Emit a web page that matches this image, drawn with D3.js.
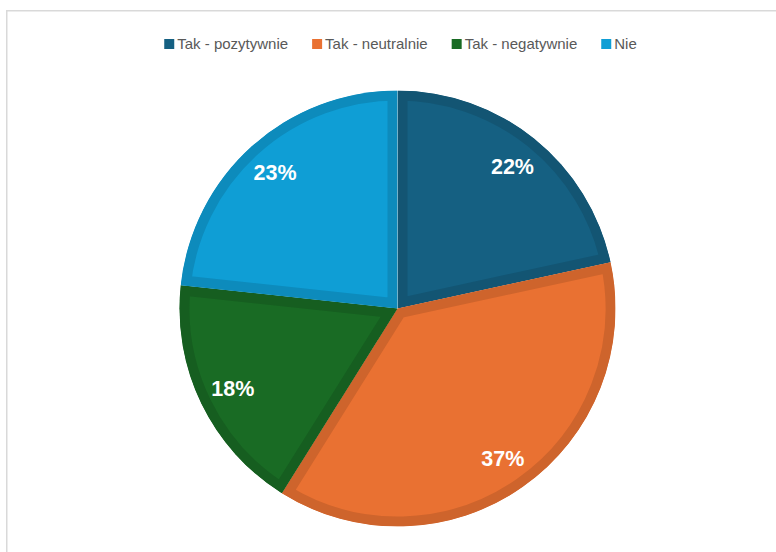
<!DOCTYPE html>
<html>
<head>
<meta charset="utf-8">
<script src="https://cdn.jsdelivr.net/npm/d3@7"></script>
<style>
  html, body { margin: 0; padding: 0; background: #fff; }
  svg { display: block; }
</style>
</head>
<body>
<svg id="chart" width="776" height="552"></svg>
<script>
const categories = ["Tak - pozytywnie", "Tak - neutralnie", "Tak - negatywnie", "Nie"];
const values = [21.6, 37.3, 17.8, 23.3];
const colors = ["#156082", "#E97132", "#196B24", "#0F9ED5"];

const svg = d3.select("#chart");

// chart area border
svg.append("rect")
  .attr("x", 6.75).attr("y", 10.75)
  .attr("width", 900).attr("height", 700)
  .attr("fill", "#fff")
  .attr("stroke", "#d9d9d9").attr("stroke-width", 1.5);

const cx = 397.5, cy = 308.5, R = 218;
const total = d3.sum(values);
const pie = d3.pie().sort(null).value(d => d)(values);
const arc = d3.arc().innerRadius(0).outerRadius(R);
const labelArc = d3.arc().innerRadius(R * 0.84).outerRadius(R * 0.84);

const g = svg.append("g").attr("transform", `translate(${cx},${cy})`);
const defs = svg.append("defs");

pie.forEach((d, i) => {
  defs.append("clipPath").attr("id", "clip" + i)
    .append("path").attr("d", arc(d));
});

g.selectAll("path.slice")
  .data(pie)
  .join("path")
  .attr("class", "slice")
  .attr("d", arc)
  .attr("fill", (d, i) => colors[i])
  .attr("stroke", (d, i) => d3.color(colors[i]).darker(0.35))
  .attr("stroke-width", 20)
  .attr("stroke-linejoin", "miter")
  .attr("clip-path", (d, i) => `url(#clip${i})`);

g.selectAll("text.lbl")
  .data(pie)
  .join("text")
  .attr("class", "lbl")
  .attr("transform", d => `translate(${labelArc.centroid(d)})`)
  .attr("text-anchor", "middle")
  .attr("dy", "0.36em")
  .attr("fill", "#fff")
  .attr("font-family", "'Liberation Sans', Arial, sans-serif")
  .attr("font-weight", "bold")
  .attr("font-size", 21.5)
  .text(d => Math.round(d.value / total * 100) + "%");

// legend
const legend = svg.append("g");
const ly = 44;
const sq = 10, gapSq = 3, gapItem = 24;
const items = legend.selectAll("g.item").data(categories).join("g").attr("class", "item");
items.append("rect")
  .attr("width", sq).attr("height", sq)
  .attr("y", ly - sq / 2)
  .attr("fill", (d, i) => colors[i]);
items.append("text")
  .attr("x", sq + gapSq)
  .attr("y", ly)
  .attr("dy", "0.35em")
  .attr("fill", "#595959")
  .attr("font-family", "'Liberation Sans', Arial, sans-serif")
  .attr("font-size", 15)
  .text(d => d);
const widths = [];
items.each(function() {
  const w = sq + gapSq + d3.select(this).select("text").node().getComputedTextLength();
  widths.push(w);
});
const totalW = d3.sum(widths) + gapItem * (widths.length - 1);
let x = 400.5 - totalW / 2;
items.each(function(d, i) {
  d3.select(this).attr("transform", `translate(${x},0)`);
  x += widths[i] + gapItem;
});
</script>
</body>
</html>
